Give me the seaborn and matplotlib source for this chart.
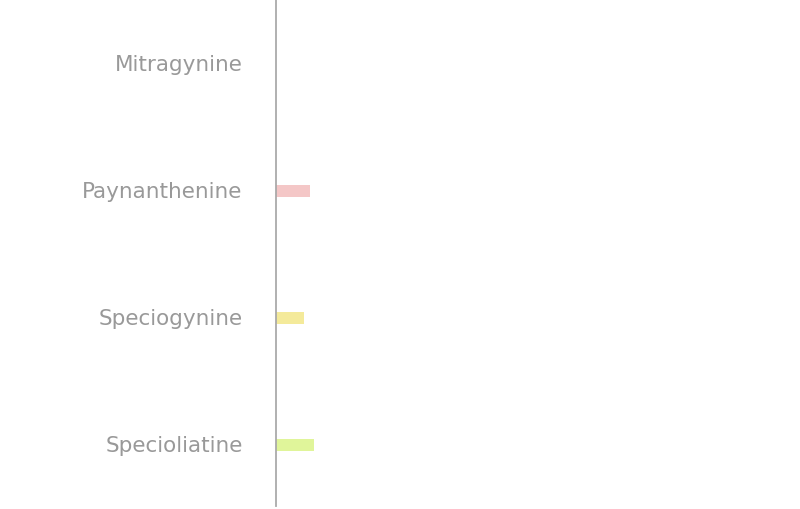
import matplotlib
matplotlib.use("Agg")
import matplotlib.pyplot as plt
import seaborn as sns
import pandas as pd

# Alkaloid values (relative bar lengths)
compounds = ["Mitragynine", "Paynanthenine", "Speciogynine", "Specioliatine"]
values = [0.0, 6.5, 5.4, 7.3]
bar_colors = ["#ffffff", "#f4c7c7", "#f4ea9a", "#e0f59a"]

sns.set_theme(style="white")
plt.rcParams["font.family"] = ["DejaVu Sans"]

df = pd.DataFrame({"compound": compounds, "value": values})

fig = plt.figure(figsize=(8, 5.1), dpi=100)
ax = fig.add_axes([0.345, 0.006, 0.655, 0.994])

sns.barplot(
    data=df, x="value", y="compound", hue="compound",
    palette=dict(zip(compounds, bar_colors)), width=0.095, saturation=1,
    edgecolor="none", legend=False, ax=ax,
)

ax.set_xlim(0, 100)
ax.set_ylim(3.48, -0.51)
ax.set_xlabel("")
ax.set_ylabel("")
ax.set_xticks([])
ax.tick_params(axis="y", length=0, pad=24)
for lbl in ax.get_yticklabels():
    lbl.set_color("#999999")
    lbl.set_fontsize(15.5)
    lbl.set_verticalalignment("center")

for side in ["top", "right", "bottom"]:
    ax.spines[side].set_visible(False)
ax.spines["left"].set_color("#aaaaaa")
ax.spines["left"].set_linewidth(1.3)

fig.savefig("out.png", dpi=100, facecolor="white")
